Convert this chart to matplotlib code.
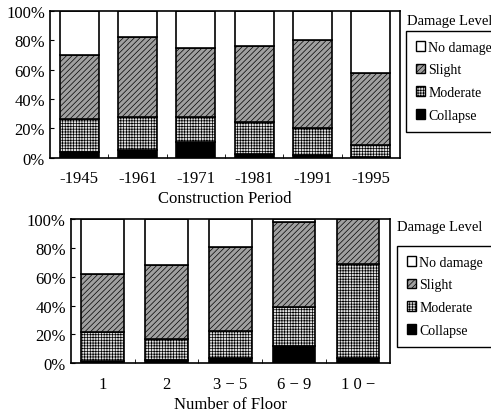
import matplotlib
matplotlib.use('Agg')
import matplotlib.pyplot as plt
import numpy as np
from matplotlib.patches import Patch

plt.rcParams['font.family'] = ['Liberation Serif', 'DejaVu Serif']
plt.rcParams['hatch.linewidth'] = 0.5

levels = ['No damage', 'Slight', 'Moderate', 'Collapse']

# shares (%) per damage level
periods = ['-1945', '-1961', '-1971', '-1981', '-1991', '-1995']
period_collapse = [4.0, 5.0, 10.5, 2.5, 1.5, 0.5]
period_moderate = [22.4, 22.5, 17.5, 21.5, 18.5, 8.2]
period_slight = [43.6, 55.0, 46.6, 52.4, 60.0, 49.3]

floors = ['1', '2', '3 − 5', '6 − 9', '1 0 −']
floor_collapse = [1.4, 2.3, 4.0, 12.2, 4.0]
floor_moderate = [20.1, 14.3, 18.6, 26.6, 65.0]
floor_slight = [40.2, 51.4, 57.8, 58.9, 31.0]

styles = {
    'No damage': dict(facecolor='white', hatch=None),
    'Slight': dict(facecolor='#a0a0a0', hatch='//////'),
    'Moderate': dict(facecolor='#e0e0e0', hatch='++++++'),
    'Collapse': dict(facecolor='black', hatch=None),
}


def stacked(ax, labels, collapse, moderate, slight, xlabel):
    x = np.arange(len(labels))
    collapse = np.array(collapse)
    moderate = np.array(moderate)
    slight = np.array(slight)
    nodmg = 100 - collapse - moderate - slight
    bottom = np.zeros(len(labels))
    for name, vals in [('Collapse', collapse), ('Moderate', moderate),
                       ('Slight', slight), ('No damage', nodmg)]:
        ax.bar(x, vals, bottom=bottom, width=0.67, edgecolor='black',
               linewidth=1.2, **styles[name])
        bottom = bottom + vals
    ax.set_xlim(-0.5, len(labels) - 0.5)
    ax.set_ylim(0, 100)
    ax.set_yticks([0, 20, 40, 60, 80, 100])
    ax.set_yticklabels(['0%', '20%', '40%', '60%', '80%', '100%'])
    ax.set_xticks(x)
    ax.set_xticklabels(labels)
    ax.set_xticks(np.arange(len(labels) - 1) + 0.5, minor=True)
    ax.tick_params(axis='x', which='major', length=0, pad=9, labelsize=12)
    ax.tick_params(axis='x', which='minor', direction='in', length=3)
    ax.tick_params(axis='y', direction='in', length=3, labelsize=12)
    ax.set_xlabel(xlabel, fontsize=12, labelpad=3)
    for s in ax.spines.values():
        s.set_linewidth(1.2)


fig = plt.figure(figsize=(4.91, 4.14), dpi=100)
ax1 = fig.add_axes([0.1018, 0.6167, 0.7128, 0.3543])
ax2 = fig.add_axes([0.144, 0.120, 0.650, 0.3486])

stacked(ax1, periods, period_collapse, period_moderate, period_slight,
        'Construction Period')
stacked(ax2, floors, floor_collapse, floor_moderate, floor_slight,
        'Number of Floor')

handles = [Patch(edgecolor='black', linewidth=1.0, **styles[n]) for n in levels]

for tx, ty, lx, ly in [(407, 22, 406, 32), (397, 228, 397, 247)]:
    fig.text(tx / 491, 1 - ty / 414, 'Damage Level', fontsize=10.5,
             ha='left', va='center')
    fig.legend(handles, levels, loc='upper left',
               bbox_to_anchor=(lx / 491, 1 - ly / 414), fontsize=10,
               frameon=True, fancybox=False, edgecolor='black',
               framealpha=1, handlelength=0.7, handleheight=0.7,
               handletextpad=0.2, borderpad=0.7, labelspacing=0.7,
               borderaxespad=0)

fig.savefig('out.png', dpi=100)
